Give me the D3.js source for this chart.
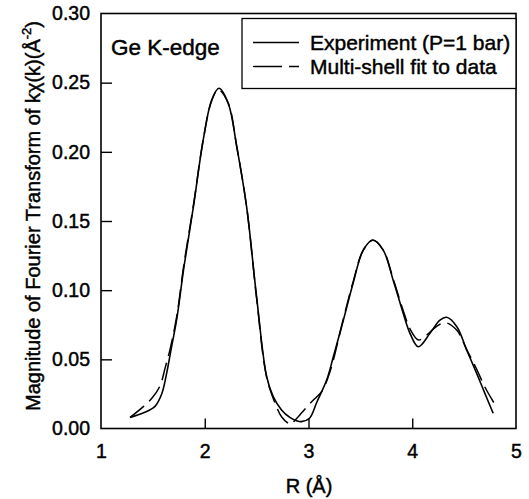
<!DOCTYPE html>
<html>
<head>
<meta charset="utf-8">
<script src="https://cdn.jsdelivr.net/npm/d3@7"></script>
<style>
  body { margin: 0; background: #fff; }
  svg { display: block; }
  text { font-family: "Liberation Sans", Arial, sans-serif; fill: #000; stroke: #000; stroke-width: 0.45px; }
</style>
</head>
<body>
<svg id="chart" width="529" height="499"></svg>
<script>
// ---- data ----
const expR = [1.28, 1.40, 1.47, 1.52, 1.585, 1.633, 1.68, 1.73, 1.80, 1.89, 1.986, 2.067, 2.137, 2.227, 2.308, 2.404, 2.50, 2.597, 2.66, 2.74, 2.82, 2.89, 2.93, 3.01, 3.08, 3.175, 3.24, 3.335, 3.43, 3.528, 3.62, 3.72, 3.817, 3.914, 3.978, 4.058, 4.171, 4.267, 4.332, 4.43, 4.525, 4.62, 4.70, 4.78];
const expY = [0.008, 0.011, 0.0134, 0.016, 0.025, 0.040, 0.059, 0.079, 0.117, 0.160, 0.209, 0.2375, 0.246, 0.235, 0.204, 0.160, 0.095, 0.0374, 0.023, 0.0134, 0.008, 0.0055, 0.005, 0.0074, 0.019, 0.035, 0.052, 0.078, 0.105, 0.129, 0.1363, 0.129, 0.107, 0.083, 0.0688, 0.0591, 0.0688, 0.0784, 0.0804, 0.0736, 0.0567, 0.040, 0.0254, 0.011];

const fitR = [1.28, 1.408, 1.49, 1.57, 1.617, 1.665, 1.73, 1.80, 1.89, 1.986, 2.067, 2.13, 2.227, 2.308, 2.404, 2.50, 2.597, 2.69, 2.74, 2.805, 2.83, 2.87, 2.93, 3.0, 3.08, 3.127, 3.207, 3.335, 3.43, 3.528, 3.62, 3.72, 3.817, 3.914, 3.978, 4.06, 4.14, 4.22, 4.316, 4.43, 4.525, 4.62, 4.70, 4.80];
const fitY = [0.008, 0.0158, 0.0218, 0.031, 0.0435, 0.057, 0.081, 0.119, 0.161, 0.209, 0.237, 0.245, 0.235, 0.204, 0.160, 0.094, 0.037, 0.016, 0.0085, 0.0037, 0.003, 0.006, 0.011, 0.017, 0.023, 0.0266, 0.041, 0.079, 0.106, 0.129, 0.136, 0.129, 0.108, 0.085, 0.072, 0.064, 0.0676, 0.073, 0.0765, 0.071, 0.057, 0.043, 0.030, 0.017];

const xTicks = [1, 2, 3, 4, 5];
const yTicks = [0.00, 0.05, 0.10, 0.15, 0.20, 0.25, 0.30];
const seriesNames = ["Experiment (P=1 bar)", "Multi-shell fit to data"];
const panelLabel = "Ge K-edge";

// ---- layout ----
const svg = d3.select("#chart");
const m = { left: 101, right: 516, top: 13.5, bottom: 428.5 };
const x = d3.scaleLinear().domain([1, 5]).range([m.left, m.right]);
const y = d3.scaleLinear().domain([0, 0.30]).range([m.bottom, m.top]);

const tickFont = 19.5;
const FONT = "Liberation Sans, Arial, sans-serif";

// frame
svg.append("rect")
  .attr("x", m.left).attr("y", m.top)
  .attr("width", m.right - m.left).attr("height", m.bottom - m.top)
  .attr("fill", "none").attr("stroke", "#000").attr("stroke-width", 1.6);

// x axis
const xAxis = d3.axisBottom(x).tickValues(xTicks).tickSizeInner(-10).tickSizeOuter(0)
  .tickPadding(16).tickFormat(d3.format("d"));
const gx = svg.append("g").attr("transform", `translate(0,${m.bottom})`).call(xAxis);
gx.select(".domain").remove();
gx.selectAll(".tick line").attr("stroke-width", 1.4)
  .attr("display", d => (d === 1 || d === 5) ? "none" : null);
gx.selectAll(".tick text").attr("font-size", tickFont).attr("font-family", FONT);

// y axis
const yAxis = d3.axisLeft(y).tickValues(yTicks).tickSizeInner(-11).tickSizeOuter(0)
  .tickPadding(11).tickFormat(d3.format(".2f"));
const gy = svg.append("g").attr("transform", `translate(${m.left},0)`).call(yAxis);
gy.select(".domain").remove();
gy.selectAll(".tick line").attr("stroke-width", 1.4)
  .attr("display", d => (d === 0 || d === 0.30) ? "none" : null);
gy.selectAll(".tick text").attr("font-size", tickFont).attr("font-family", FONT);

// axis titles
svg.append("text").attr("x", 309).attr("y", 493)
  .attr("text-anchor", "middle").attr("font-size", 20).text("R (Å)");

const yt = svg.append("text")
  .attr("transform", `translate(39.5,216) rotate(-90)`)
  .attr("text-anchor", "middle").attr("font-size", 20);
yt.append("tspan").text("Magnitude of Fourier Transform of kχ(k)(Å");
yt.append("tspan").attr("font-size", 13).attr("dy", -9).text("-2");
yt.append("tspan").attr("dy", 9).text(")");

// curves
const line = d3.line().x(d => x(d[0])).y(d => y(d[1])).curve(d3.curveCatmullRom.alpha(0.5));
const expData = expR.map((r, i) => [r, expY[i]]);
const fitData = fitR.map((r, i) => [r, fitY[i]]);

svg.append("path").datum(fitData).attr("d", line)
  .attr("fill", "none").attr("stroke", "#000").attr("stroke-width", 1.5)
  .attr("stroke-dasharray", "18,7");
svg.append("path").datum(expData).attr("d", line)
  .attr("fill", "none").attr("stroke", "#000").attr("stroke-width", 1.6);

// panel label
svg.append("text").attr("x", 111).attr("y", 55).attr("font-size", 22.5).text(panelLabel);

// legend
const lg = svg.append("g");
lg.append("rect").attr("x", 242).attr("y", 18.5).attr("width", m.right - 242).attr("height", 70)
  .attr("fill", "#fff").attr("stroke", "#000").attr("stroke-width", 1.3);
const lys = [42.5, 66.5];
seriesNames.forEach((name, i) => {
  lg.append("line").attr("x1", 253).attr("x2", 299).attr("y1", lys[i]).attr("y2", lys[i])
    .attr("stroke", "#000").attr("stroke-width", 1.3)
    .attr("stroke-dasharray", i === 1 ? "29,7" : null);
  lg.append("text").attr("x", 310).attr("y", lys[i] + 7).attr("font-size", 21).text(name);
});
</script>
</body>
</html>
